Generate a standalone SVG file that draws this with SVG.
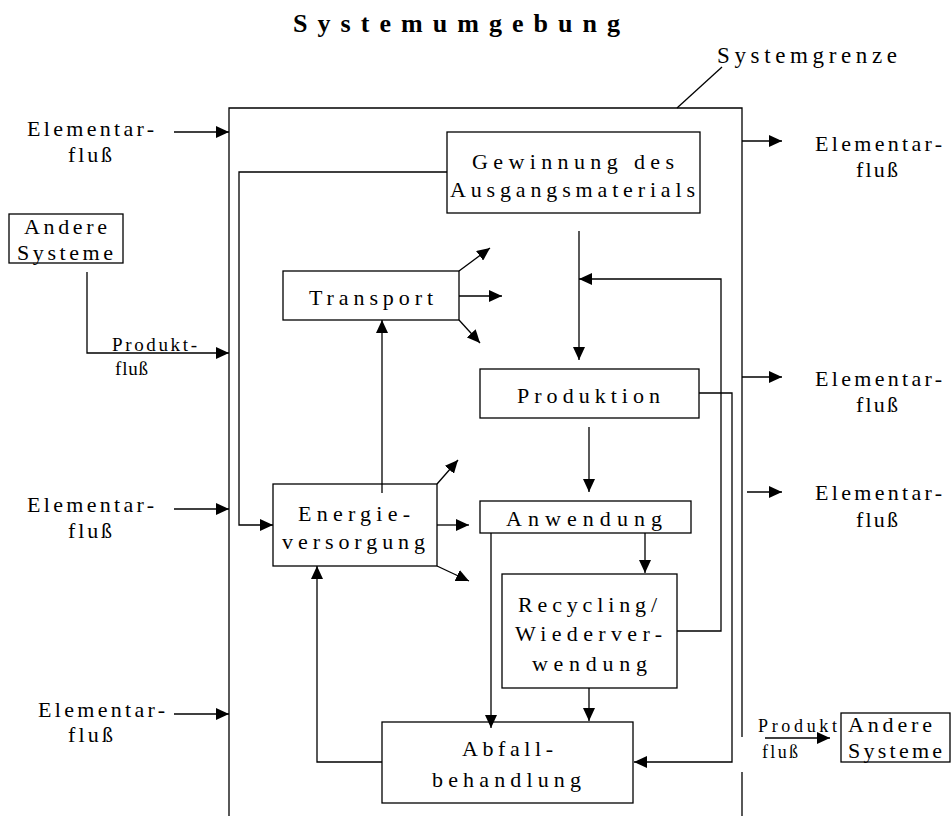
<svg xmlns="http://www.w3.org/2000/svg" width="951" height="816" viewBox="0 0 951 816">
  <style>
    text { font-family: "Liberation Serif", "Times New Roman", "DejaVu Serif", serif; font-size: 22px; fill: #000; }
    .title { font-size: 26px; font-weight: bold; }
    .grenze { font-size: 23px; }
    .small { font-size: 19px; }
    .tiny { font-size: 18px; }
    .box { fill: #fff; stroke: #000; stroke-width: 1.3; }
    .ln { fill: none; stroke: #000; stroke-width: 1.3; }
    .arr { fill: none; stroke: #000; stroke-width: 1.3; marker-end: url(#head); }
  </style>
  <defs>
    <marker id="head" markerUnits="userSpaceOnUse" markerWidth="14" markerHeight="12" refX="13" refY="6" orient="auto">
      <path d="M0,0 L13,6 L0,12 z" fill="#000"/>
    </marker>
  </defs>

  <rect width="951" height="816" fill="#fff"/>

  <!-- heading -->
  <text class="title" x="293" y="32" textLength="327" lengthAdjust="spacing">Systemumgebung</text>

  <!-- system boundary with its label -->
  <g id="systemgrenze">
    <path class="ln" d="M229,816 V108 H742 V737 M742,772 V816"/>
    <line class="ln" x1="677" y1="108" x2="722" y2="67"/>
    <text class="grenze" x="717" y="63" textLength="180" lengthAdjust="spacing">Systemgrenze</text>
  </g>

  <!-- process boxes -->
  <g id="gewinnung">
    <rect class="box" x="447" y="132" width="253" height="81"/>
    <text x="472" y="169" textLength="202" lengthAdjust="spacing">Gewinnung des</text>
    <text x="450" y="197" textLength="245" lengthAdjust="spacing">Ausgangsmaterials</text>
  </g>
  <g id="transport">
    <rect class="box" x="283" y="271" width="176" height="49"/>
    <text x="309" y="305" textLength="124" lengthAdjust="spacing">Transport</text>
  </g>
  <g id="produktion">
    <rect class="box" x="480" y="369" width="219" height="49"/>
    <text x="517" y="403" textLength="143" lengthAdjust="spacing">Produktion</text>
  </g>
  <g id="energieversorgung">
    <rect class="box" x="273" y="484" width="164" height="82"/>
    <text x="298" y="521" textLength="112" lengthAdjust="spacing">Energie-</text>
    <text x="282" y="549" textLength="143" lengthAdjust="spacing">versorgung</text>
  </g>
  <g id="anwendung">
    <rect class="box" x="480" y="501" width="211" height="32"/>
    <text x="506" y="526" textLength="156" lengthAdjust="spacing">Anwendung</text>
  </g>
  <g id="recycling">
    <rect class="box" x="502" y="574" width="175" height="114"/>
    <text x="518" y="612" textLength="139" lengthAdjust="spacing">Recycling/</text>
    <text x="515" y="641" textLength="147" lengthAdjust="spacing">Wiederver-</text>
    <text x="532" y="671" textLength="115" lengthAdjust="spacing">wendung</text>
  </g>
  <g id="abfallbehandlung">
    <rect class="box" x="382" y="722" width="251" height="81"/>
    <text x="462" y="756" textLength="91" lengthAdjust="spacing">Abfall-</text>
    <text x="432" y="787" textLength="149" lengthAdjust="spacing">behandlung</text>
  </g>

  <!-- other systems -->
  <g id="andere-systeme-links">
    <rect class="box" x="9" y="214" width="114" height="49"/>
    <text x="24" y="234" textLength="83" lengthAdjust="spacing">Andere</text>
    <text x="17" y="260" textLength="96" lengthAdjust="spacing">Systeme</text>
  </g>
  <g id="andere-systeme-rechts">
    <rect class="box" x="841" y="713" width="109" height="49"/>
    <text x="848" y="732" textLength="84" lengthAdjust="spacing">Andere</text>
    <text x="848" y="758" textLength="94" lengthAdjust="spacing">Systeme</text>
  </g>

  <!-- flow labels -->
  <g id="flusslabels">
    <text x="27" y="136" textLength="127" lengthAdjust="spacing">Elementar-</text>
    <text x="68" y="162" textLength="44" lengthAdjust="spacing">fluß</text>
    <text x="27" y="512" textLength="127" lengthAdjust="spacing">Elementar-</text>
    <text x="68" y="538" textLength="44" lengthAdjust="spacing">fluß</text>
    <text x="38" y="717" textLength="127" lengthAdjust="spacing">Elementar-</text>
    <text x="68" y="742" textLength="45" lengthAdjust="spacing">fluß</text>
    <text x="815" y="151" textLength="127" lengthAdjust="spacing">Elementar-</text>
    <text x="856" y="177" textLength="42" lengthAdjust="spacing">fluß</text>
    <text x="815" y="386" textLength="127" lengthAdjust="spacing">Elementar-</text>
    <text x="856" y="412" textLength="42" lengthAdjust="spacing">fluß</text>
    <text x="815" y="500" textLength="127" lengthAdjust="spacing">Elementar-</text>
    <text x="856" y="527" textLength="42" lengthAdjust="spacing">fluß</text>
    <text class="small" x="112" y="351" textLength="85" lengthAdjust="spacing">Produkt-</text>
    <text class="small" x="115" y="375" textLength="33" lengthAdjust="spacing">fluß</text>
    <text class="tiny" x="758" y="732" textLength="79" lengthAdjust="spacing">Produkt</text>
    <text class="tiny" x="762" y="758" textLength="36" lengthAdjust="spacing">fluß</text>
  </g>

  <!-- connectors -->
  <g id="connectors">
    <!-- inputs from outside -->
    <line class="arr" x1="174" y1="132" x2="229" y2="132"/>
    <line class="arr" x1="174" y1="509" x2="229" y2="509"/>
    <line class="arr" x1="174" y1="714" x2="229" y2="714"/>
    <polyline class="arr" points="87,272 87,353 229,353"/>
    <!-- outputs to outside -->
    <line class="arr" x1="742" y1="141" x2="782" y2="141"/>
    <line class="arr" x1="742" y1="377" x2="782" y2="377"/>
    <line class="arr" x1="747" y1="492" x2="782" y2="492"/>
    <line class="arr" x1="765" y1="738" x2="830" y2="738"/>
    <!-- internal flows -->
    <polyline class="arr" points="447,172 239,172 239,525 273,525"/>
    <line class="arr" x1="579" y1="231" x2="579" y2="360"/>
    <polyline class="arr" points="677,631 721,631 721,279 579,279"/>
    <line class="arr" x1="589" y1="427" x2="589" y2="492"/>
    <polyline class="arr" points="699,393 732,393 732,762 634,762"/>
    <line class="arr" x1="645" y1="533" x2="645" y2="573"/>
    <line class="arr" x1="491" y1="533" x2="491" y2="728"/>
    <line class="arr" x1="589" y1="688" x2="589" y2="721"/>
    <polyline class="arr" points="382,762 317,762 317,566"/>
    <line class="arr" x1="382" y1="493" x2="382" y2="320"/>
    <!-- emissions from transport -->
    <line class="arr" x1="459" y1="271" x2="490" y2="248"/>
    <line class="arr" x1="459" y1="296" x2="502" y2="296"/>
    <line class="arr" x1="459" y1="320" x2="480" y2="343"/>
    <!-- emissions from energy supply -->
    <line class="arr" x1="437" y1="484" x2="458" y2="460"/>
    <line class="arr" x1="437" y1="525" x2="469" y2="525"/>
    <line class="arr" x1="437" y1="566" x2="469" y2="581"/>
  </g>
</svg>
